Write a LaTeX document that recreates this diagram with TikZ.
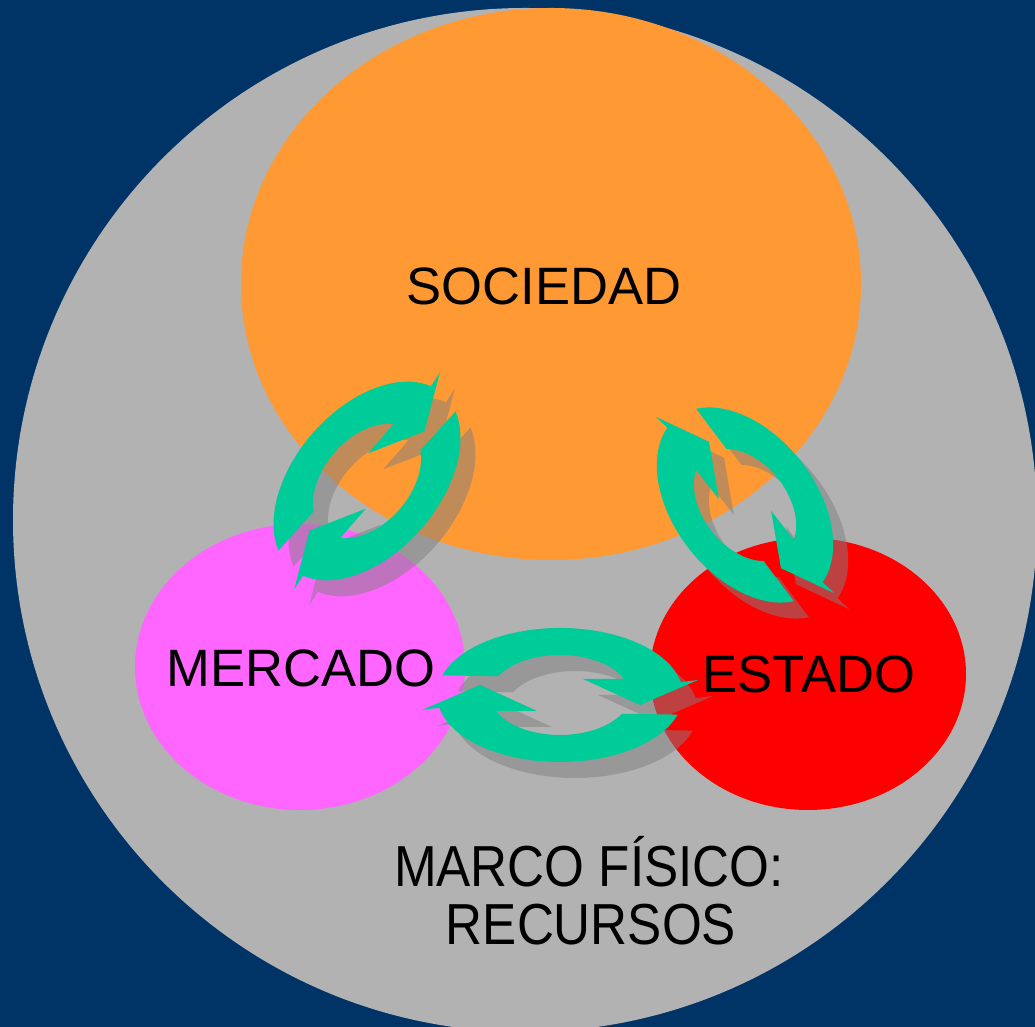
\documentclass[tikz,border=0pt]{standalone}
\usepackage{fontspec}
\setmainfont{Liberation Sans}

\definecolor{bgnavy}{HTML}{003366}
\definecolor{marcogray}{HTML}{B2B2B2}
\definecolor{socorange}{HTML}{FF9933}
\definecolor{mermagenta}{HTML}{FF66FF}
\definecolor{estred}{HTML}{FF0000}
\definecolor{cycgreen}{HTML}{00CC99}

\tikzset{
	lbl/.style={font=\fontsize{26.3}{30}\selectfont, inner sep=0pt, anchor=base},
	cycarrow/.style={fill=cycgreen},
	cycshadow/.style={fill=gray, fill opacity=0.5},
	% two curved arrows turning round each other
	pics/cyclepair/.style={code={
		\foreach \rot in {0,180}
			\path[rotate=\rot,#1] (163:123 and 67)
				arc[start angle=163, end angle=11, x radius=123, y radius=67]
				-- (138,15) -- (80,-10) -- (23,16) -- (23.6:70 and 40)
				arc[start angle=23.6, end angle=152, x radius=70, y radius=40] -- cycle;
	}},
	msturn/.style={rotate=49, xscale=0.94, yscale=1.08},
	seturn/.style={rotate=128, xscale=0.9, yscale=1.06}
}

\begin{document}
\begin{tikzpicture}[x=0.5pt, y=0.5pt]

	\path[use as bounding box, clip] (0,0) rectangle (1035,1027);
	\fill[bgnavy] (0,0) rectangle (1035,1027);
	\fill[marcogray] (525,507) circle(512);

	\fill[socorange] (551,743) ellipse (310 and 276);
	\fill[mermagenta] (300,360) ellipse (165 and 143);
	\fill[estred] (808,353) ellipse (158 and 136);

	\coordinate (ms) at (367,546);
	\coordinate (se) at (745,522);
	\coordinate (me) at (560,332);

	\pic[msturn] at ([shift={(15,-16)}]ms) {cyclepair=cycshadow};
	\pic[seturn] at ([shift={(15,-16)}]se) {cyclepair=cycshadow};
	\pic at ([shift={(15,-16)}]me) {cyclepair=cycshadow};

	\pic[msturn] at (ms) {cyclepair=cycarrow};
	\pic[seturn] at (se) {cyclepair=cycarrow};
	\pic at (me) {cyclepair=cycarrow};

	\node[lbl] (sociedad) at (544,722) {SOCIEDAD};
	\node[lbl] (mercado) at (301,340) {MERCADO};
	\node[lbl] (estado) at (809,334) {ESTADO};
	\node[lbl, font=\fontsize{25.6}{30}\selectfont] (marco) at (589,140) {\scalebox{1}[1.13]{MARCO FÍSICO:}};
	\node[lbl, font=\fontsize{25.6}{30}\selectfont] (recursos) at (591,82) {\scalebox{1}[1.13]{RECURSOS}};

\end{tikzpicture}
\end{document}
